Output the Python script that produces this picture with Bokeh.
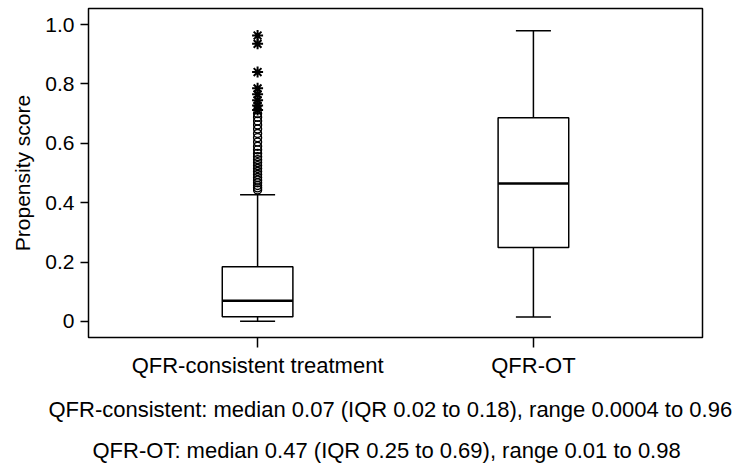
from bokeh.plotting import figure
from bokeh.models import ColumnDataSource, FixedTicker, Range1d, Title
from bokeh.embed import file_html
from bokeh.resources import INLINE

categories = ["QFR-consistent treatment", "QFR-OT"]
positions = [1, 2]
lower_whisker = [0.0004, 0.015]
q1 = [0.016, 0.249]
median = [0.07, 0.465]
q3 = [0.184, 0.686]
upper_whisker = [0.427, 0.979]

# outliers of group 1 (QFR-consistent treatment)
outliers_circle = [0.700, 0.688, 0.675, 0.662, 0.648, 0.633, 0.619, 0.604, 0.590,
                   0.578, 0.566, 0.555, 0.545, 0.535, 0.525, 0.515, 0.505, 0.495,
                   0.485, 0.476, 0.467, 0.458, 0.450, 0.443]
outliers_star = [0.963, 0.935, 0.840, 0.785, 0.765, 0.745, 0.727, 0.712]

y_ticks = [0, 0.2, 0.4, 0.6, 0.8, 1.0]
y_tick_labels = ["0", "0.2", "0.4", "0.6", "0.8", "1.0"]

note_lines = [
    "QFR-consistent: median 0.07 (IQR  0.02 to 0.18), range 0.0004 to 0.96",
    "QFR-OT: median 0.47 (IQR 0.25 to 0.69), range 0.01 to 0.98",
]
note_offsets = [-40, 4]
note_standoffs = [28, 1]

FONT = "Liberation Sans"
BOX_W = 0.256
CAP_W = 0.127

p = figure(width=735, height=470, output_backend="svg", toolbar_location=None,
           x_range=Range1d(0.387, 2.613), y_range=Range1d(-0.054, 1.054),
           min_border_left=88, min_border_right=33, min_border_top=8,
           min_border_bottom=133)
p.background_fill_color = "white"
p.border_fill_color = "white"
p.outline_line_color = "black"
p.outline_line_width = 1.5
p.grid.visible = False

src = ColumnDataSource(dict(
    x=positions,
    left=[v - BOX_W / 2 for v in positions],
    right=[v + BOX_W / 2 for v in positions],
    cl=[v - CAP_W / 2 for v in positions],
    cr=[v + CAP_W / 2 for v in positions],
    lo=lower_whisker, q1=q1, med=median, q3=q3, hi=upper_whisker,
))

# whiskers
p.segment(x0="x", y0="q3", x1="x", y1="hi", source=src, line_color="black", line_width=1.5)
p.segment(x0="x", y0="lo", x1="x", y1="q1", source=src, line_color="black", line_width=1.5)
# caps
p.segment(x0="cl", y0="hi", x1="cr", y1="hi", source=src, line_color="black", line_width=1.5)
p.segment(x0="cl", y0="lo", x1="cr", y1="lo", source=src, line_color="black", line_width=1.5)
# boxes
p.quad(left="left", right="right", bottom="q1", top="q3", source=src,
       fill_color="white", line_color="black", line_width=1.5)
# medians
p.segment(x0="left", y0="med", x1="right", y1="med", source=src, line_color="black", line_width=2.5)

# outliers
p.scatter(x=[positions[0]] * len(outliers_circle), y=outliers_circle, marker="circle",
          size=8, fill_color=None, line_color="black", line_width=1.4)
p.scatter(x=[positions[0]] * len(outliers_star), y=outliers_star, marker="asterisk",
          size=11, line_color="black", line_width=2)

# axes
p.xaxis.ticker = FixedTicker(ticks=positions)
p.xaxis.major_label_overrides = {positions[i]: categories[i] for i in range(len(categories))}
p.xaxis.major_label_text_font = FONT
p.xaxis.major_label_text_font_size = "22px"
p.xaxis.major_label_text_color = "black"
p.xaxis.major_tick_out = 10
p.xaxis.major_tick_in = 0
p.xaxis.minor_tick_line_color = None
p.xaxis.axis_line_color = None
p.xaxis.major_tick_line_width = 1.5
p.xaxis.major_label_standoff = 5

p.yaxis.ticker = FixedTicker(ticks=y_ticks)
p.yaxis.major_label_overrides = {y_ticks[i]: y_tick_labels[i] for i in range(len(y_ticks))}
p.yaxis.major_label_text_font = FONT
p.yaxis.major_label_text_font_size = "21px"
p.yaxis.major_label_text_color = "black"
p.yaxis.major_tick_out = 8
p.yaxis.major_tick_in = 0
p.yaxis.minor_tick_line_color = None
p.yaxis.axis_line_color = None
p.yaxis.major_tick_line_width = 1.5
p.yaxis.major_label_standoff = 6
p.yaxis.axis_label = "Propensity score"
p.yaxis.axis_label_text_font = FONT
p.yaxis.axis_label_text_font_size = "21px"
p.yaxis.axis_label_text_font_style = "normal"
p.yaxis.axis_label_text_color = "black"
p.yaxis.axis_label_standoff = 8

for line, off, so in zip(note_lines, note_offsets, note_standoffs):
    t = Title(text=line, align="left", offset=off, text_font=FONT, text_font_size="22px",
              text_font_style="normal", text_color="black", standoff=so)
    p.add_layout(t, "below")

open("out.html", "w").write(file_html(p, INLINE))
